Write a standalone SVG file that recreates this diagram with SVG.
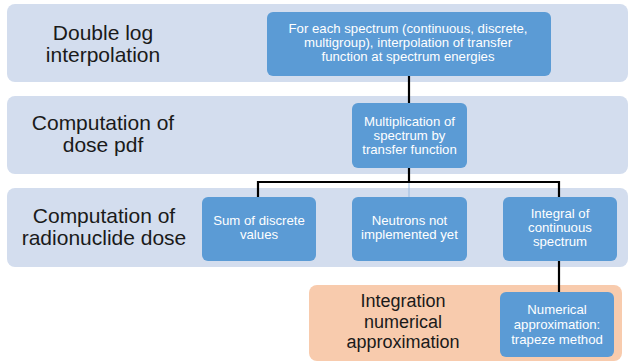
<svg xmlns="http://www.w3.org/2000/svg" width="629" height="362" viewBox="0 0 629 362">
<style>
.band{fill:#d3ddee}
.oband{fill:#f8cbad}
.node{fill:#5b9bd5}
.lbl{font-family:"Liberation Sans",Arial,sans-serif;font-size:21px;fill:#1a1a1a;text-anchor:middle}
.olbl{font-family:"Liberation Sans",Arial,sans-serif;font-size:18px;fill:#1a1a1a;text-anchor:middle}
.nt{font-family:"Liberation Sans",Arial,sans-serif;font-size:13.2px;fill:#ffffff;text-anchor:middle}
.conn{stroke:#000;stroke-width:2.2;fill:none}
.thin{stroke:#9bbbe0;stroke-width:1;fill:none}
</style>
<rect width="629" height="362" fill="#ffffff"/>
<g id="band1"><rect class="band" x="7" y="4" width="621" height="78" rx="8"/>
<text class="lbl" x="103" y="40">Double log</text><text class="lbl" x="103" y="62">interpolation</text></g>
<g id="band2"><rect class="band" x="7" y="96" width="621" height="78" rx="8"/>
<text class="lbl" x="103" y="130">Computation of</text><text class="lbl" x="103" y="152">dose pdf</text></g>
<g id="band3"><rect class="band" x="7" y="188" width="621" height="79" rx="8"/>
<text class="lbl" x="104" y="223">Computation of</text><text class="lbl" x="104" y="245">radionuclide dose</text></g>
<g id="band4"><rect class="oband" x="309" y="285" width="313" height="76" rx="8"/>
<text class="olbl" x="403" y="307">Integration</text><text class="olbl" x="403" y="327.5">numerical</text><text class="olbl" x="403" y="348">approximation</text></g>
<g id="connectors">
<path class="conn" d="M409 76V103"/>
<path class="conn" d="M409 168V182M258 197V182H559V197"/>
<path class="thin" d="M409 183V197"/>
<path class="conn" d="M559 261V292"/>
</g>
<g id="n-interp"><rect class="node" x="267" y="12" width="284" height="64" rx="6"/>
<text class="nt" x="408" y="33">For each spectrum (continuous, discrete,</text>
<text class="nt" x="408" y="47">multigroup), interpolation of transfer</text>
<text class="nt" x="408" y="61">function at spectrum energies</text></g>
<g id="n-mult"><rect class="node" x="352" y="103" width="115" height="65" rx="6"/>
<text class="nt" x="409.5" y="126">Multiplication of</text>
<text class="nt" x="409.5" y="140">spectrum by</text>
<text class="nt" x="409.5" y="154">transfer function</text></g>
<g id="n-sum"><rect class="node" x="202" y="197" width="114" height="64" rx="6"/>
<text class="nt" x="259" y="225">Sum of discrete</text>
<text class="nt" x="259" y="239">values</text></g>
<g id="n-neutrons"><rect class="node" x="352" y="197" width="115" height="64" rx="6"/>
<text class="nt" x="409.5" y="225">Neutrons not</text>
<text class="nt" x="409.5" y="239">implemented yet</text></g>
<g id="n-integral"><rect class="node" x="503" y="197" width="114" height="64" rx="6"/>
<text class="nt" x="560" y="218">Integral of</text>
<text class="nt" x="560" y="232">continuous</text>
<text class="nt" x="560" y="246">spectrum</text></g>
<g id="n-numerical"><rect class="node" x="500" y="292" width="114" height="65" rx="6"/>
<text class="nt" x="557" y="314">Numerical</text>
<text class="nt" x="557" y="329">approximation:</text>
<text class="nt" x="557" y="344">trapeze method</text></g>
</svg>
